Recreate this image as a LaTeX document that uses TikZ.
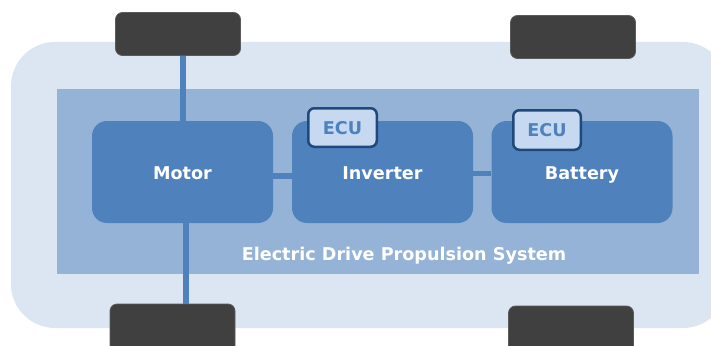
\documentclass[tikz,border=0pt]{standalone}
\usepackage{fontspec}
\setmainfont{DejaVu Sans}
\definecolor{bodyc}{HTML}{DCE6F2}
\definecolor{innerc}{HTML}{95B3D7}
\definecolor{boxc}{HTML}{4F81BD}
\definecolor{ecufill}{HTML}{C6D9F1}
\definecolor{ecudraw}{HTML}{1F497D}
\definecolor{wheelc}{HTML}{404040}
\definecolor{wheeledge}{HTML}{5A5A5A}
\begin{document}
\begin{tikzpicture}[x=1pt,y=-1pt,
  lblfont/.style={font=\bfseries\fontsize{17.6}{19}\selectfont},
  wheel/.style={fill=wheelc,draw=wheeledge,line width=0.8pt,rounded corners=7pt,inner sep=0pt},
  unit/.style={fill=boxc,rounded corners=15pt,inner sep=0pt,minimum width=181pt,minimum height=102pt,
    text=white,lblfont,text height=15pt,text depth=0pt},
  ecu/.style={fill=ecufill,draw=ecudraw,line width=2.5pt,rounded corners=6pt,inner sep=0pt,
    minimum width=68.5pt,minimum height=38.5pt,text=boxc,lblfont,
    text height=13pt,text depth=0pt},
  link/.style={draw=boxc,line width=6pt}]
\useasboundingbox (0,0) rectangle (711,345);
% car body
\fill[bodyc,rounded corners=44pt] (11,42) rectangle (727,328);
% system area
\node[fill=innerc,inner sep=0pt,minimum width=642pt,minimum height=185pt] (sys) at (378,181.5) {};
% wheels
\node[wheel,minimum width=125pt,minimum height=43pt] (wTL) at (178,34) {};
\node[wheel,minimum width=125pt,minimum height=43pt] (wTR) at (573,37) {};
\node[wheel,minimum width=125pt,minimum height=52pt] (wBL) at (172.5,330) {};
\node[wheel,minimum width=125pt,minimum height=52pt] (wBR) at (571,332) {};
% units
\node[unit] (motor) at (182.5,172) {Motor};
\node[unit] (inv) at (382.5,172) {Inverter};
\node[unit] (bat) at (582,172) {Battery};
% axles
\draw[link] (motor.north) -- (motor.north |- wTL.south);
\draw[link] ([xshift=3pt]motor.south) -- ([xshift=3pt]motor.south |- wBL.north);
% links between units
\draw[link] ([yshift=-4pt]motor.east) -- ([yshift=-4pt]inv.west);
\draw[link,line width=5pt] ([yshift=-1.5pt]inv.east) -- ([yshift=-1.5pt]bat.west);
% ECUs
\node[ecu] (ecu1) at (342.5,127.5) {ECU};
\node[ecu,minimum width=67.5pt,minimum height=39.5pt] (ecu2) at (547,130) {ECU};
% system label
\node[text=white,lblfont,inner sep=0pt,text height=13pt,text depth=0pt] (sysname) at (404,253.5) {Electric Drive Propulsion System};
\end{tikzpicture}
\end{document}
